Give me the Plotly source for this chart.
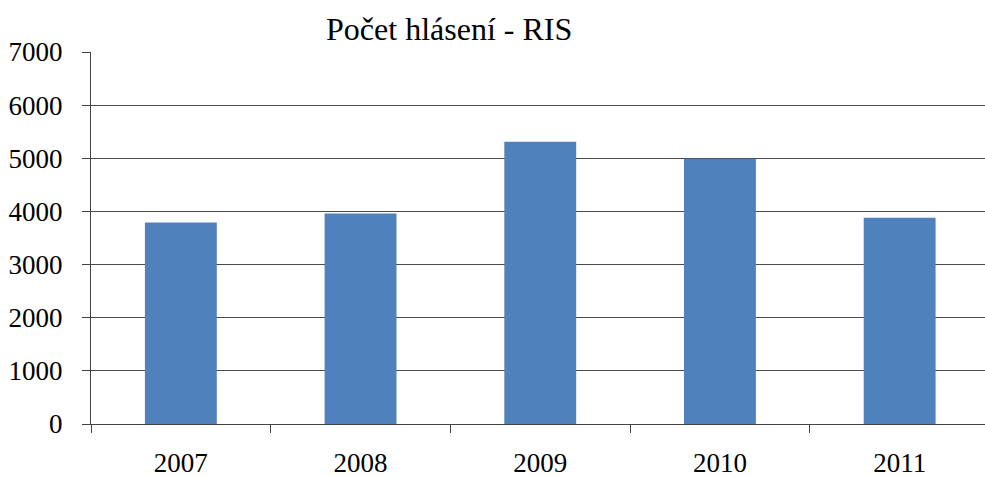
import plotly.graph_objects as go

years = ["2007", "2008", "2009", "2010", "2011"]
counts = [3790, 3960, 5310, 4990, 3880]
y_ticks = [0, 1000, 2000, 3000, 4000, 5000, 6000, 7000]
title_text = "Počet hlásení - RIS"

font = "Liberation Serif, Times New Roman, serif"

fig = go.Figure(go.Bar(x=years, y=counts, marker_color="#4F81BD", width=0.4,
                       marker_line_width=0))

fig.update_layout(
    width=985, height=477,
    margin=dict(l=91, r=0, t=52, b=53),
    paper_bgcolor="white", plot_bgcolor="white",
    showlegend=False,
    font=dict(family=font, size=27, color="black"),
    title=dict(text=title_text, x=0.456, xanchor="center", y=0.94, yanchor="middle",
               font=dict(family=font, size=32, color="black")),
)
fig.update_xaxes(
    type="category", range=[-0.5, 4.475],
    tickson="boundaries", ticks="outside", ticklen=8, tickcolor="#444444",
    showline=True, linecolor="#444444", linewidth=1,
    showgrid=False, ticklabelstandoff=15,
)
fig.update_yaxes(
    range=[0, 7000], tickvals=y_ticks,
    ticks="outside", ticklen=8, tickcolor="#444444",
    showline=True, linecolor="#444444", linewidth=1,
    showgrid=True, gridcolor="#4a4a4a", gridwidth=1,
    zeroline=False, ticklabelstandoff=14,
)
fig.write_html("out.html", post_script="document.body.style.margin='0';",
               config={"displayModeBar": False})
